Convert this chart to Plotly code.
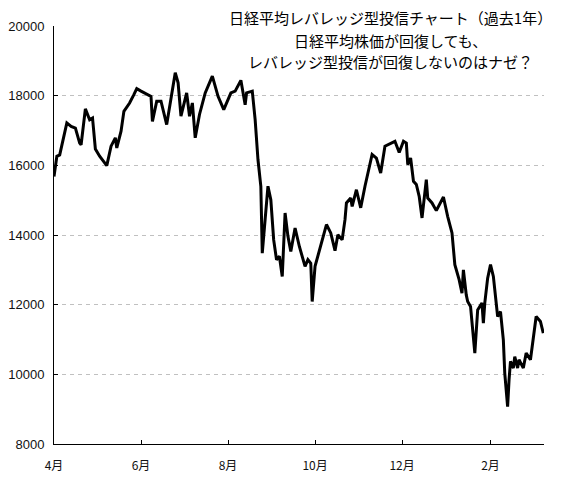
import plotly.graph_objects as go

dates = [
    "2015-04-01", "2015-04-03", "2015-04-05", "2015-04-10", "2015-04-13", "2015-04-16",
    "2015-04-19", "2015-04-20", "2015-04-23", "2015-04-26", "2015-04-28", "2015-04-30",
    "2015-05-03", "2015-05-08", "2015-05-11", "2015-05-14", "2015-05-15", "2015-05-18",
    "2015-05-20", "2015-05-24", "2015-05-27", "2015-05-29", "2015-06-01", "2015-06-05",
    "2015-06-08", "2015-06-09", "2015-06-12", "2015-06-15", "2015-06-19", "2015-06-25",
    "2015-06-27", "2015-06-29", "2015-07-03", "2015-07-05", "2015-07-07", "2015-07-09",
    "2015-07-12", "2015-07-16", "2015-07-21", "2015-07-25", "2015-07-29", "2015-08-03",
    "2015-08-06", "2015-08-10", "2015-08-13", "2015-08-14", "2015-08-18", "2015-08-20",
    "2015-08-22", "2015-08-24", "2015-08-25", "2015-08-27", "2015-08-29", "2015-08-31",
    "2015-09-02", "2015-09-04", "2015-09-06", "2015-09-08", "2015-09-10", "2015-09-12",
    "2015-09-14", "2015-09-17", "2015-09-20", "2015-09-24", "2015-09-26", "2015-09-28",
    "2015-09-29", "2015-10-01", "2015-10-05", "2015-10-08", "2015-10-09", "2015-10-12",
    "2015-10-15", "2015-10-17", "2015-10-20", "2015-10-22", "2015-10-23", "2015-10-26",
    "2015-10-27", "2015-10-30", "2015-11-02", "2015-11-05", "2015-11-10", "2015-11-13",
    "2015-11-16", "2015-11-19", "2015-11-23", "2015-11-26", "2015-11-29", "2015-12-02",
    "2015-12-04", "2015-12-05", "2015-12-07", "2015-12-09", "2015-12-11", "2015-12-13",
    "2015-12-15", "2015-12-18", "2015-12-19", "2015-12-22", "2015-12-25", "2015-12-30",
    "2016-01-02", "2016-01-05", "2016-01-07", "2016-01-10", "2016-01-12", "2016-01-13",
    "2016-01-15", "2016-01-16", "2016-01-18", "2016-01-21", "2016-01-23", "2016-01-26",
    "2016-01-27", "2016-01-28", "2016-01-30", "2016-02-01", "2016-02-03", "2016-02-05",
    "2016-02-06", "2016-02-08", "2016-02-10", "2016-02-11", "2016-02-13", "2016-02-14",
    "2016-02-15", "2016-02-17", "2016-02-18", "2016-02-20", "2016-02-21", "2016-02-24",
    "2016-02-26", "2016-02-29", "2016-03-02", "2016-03-04", "2016-03-07", "2016-03-09",
]

nav = [
    15680, 16260, 16300, 17220, 17120, 17070,
    16640, 16590, 17620, 17310, 17360, 16470,
    16260, 15990, 16550, 16790, 16500, 16980,
    17550, 17790, 18030, 18200, 18130, 18030,
    17980, 17260, 17840, 17840, 17170, 18660,
    18370, 17410, 18080, 17410, 17790, 16790,
    17460, 18080, 18560, 17980, 17600, 18080,
    18130, 18440, 17740, 18080, 18130, 17310,
    16160, 15400, 13480, 14440, 15400, 15010,
    13860, 13290, 13390, 12810, 14630, 13960,
    13530, 14200, 13670, 13100, 13290, 13190,
    12090, 13100, 13670, 14150, 14300, 14060,
    13550, 14010, 13860, 14440, 14920, 15060,
    14820, 15300, 14780, 15400, 16310, 16210,
    15780, 16550, 16620, 16690, 16370, 16690,
    16640, 16020, 16210, 15540, 15450, 15110,
    14490, 15590, 15060, 14920, 14700, 15090,
    14530, 14060, 13150, 12720, 12330, 13000,
    12280, 12090, 11950, 10610, 11850, 12050,
    11470, 12050, 12760, 13150, 12810, 11900,
    11660, 11800, 10990, 10030, 9070, 9840,
    10370, 10180, 10510, 10180, 10420, 10180,
    10610, 10420, 10990, 11660, 11520, 11180,
]

tick_dates = ["2015-04-01", "2015-06-01", "2015-08-01", "2015-10-01", "2015-12-01", "2016-02-01"]
tick_labels = ["4月", "6月", "8月", "10月", "12月", "2月"]
y_ticks = [8000, 10000, 12000, 14000, 16000, 18000, 20000]
y_tick_labels = ["8000", "10000", "12000", "14000", "16000", "18000", "20000"]

title_lines = [
    "日経平均レバレッジ型投信チャート（過去1年）",
    "日経平均株価が回復しても、",
    "レバレッジ型投信が回復しないのはナゼ？",
]

fig = go.Figure()
fig.add_trace(go.Scatter(
    x=dates, y=nav, mode="lines",
    line=dict(color="black", width=3),
    showlegend=False, hoverinfo="skip",
))

# page body has an 8px margin, so the figure is sized to fit inside the window
fig.update_layout(
    width=559, height=473,
    margin=dict(l=46, r=23, t=18, b=37),
    paper_bgcolor="white", plot_bgcolor="white",
    font=dict(family="Liberation Sans, Noto Sans CJK JP, sans-serif", size=13, color="#111111"),
    xaxis=dict(
        type="date",
        range=["2015-04-01", "2016-03-09 12:00"],
        tickvals=tick_dates, ticktext=tick_labels,
        ticks="inside", ticklen=4, tickcolor="black",
        showline=True, linecolor="black", linewidth=1,
        showgrid=False, zeroline=False,
        ticklabelstandoff=11,
        automargin=False,
        tickfont=dict(family="Noto Sans CJK JP, sans-serif", size=12, color="#111111"),
    ),
    yaxis=dict(
        range=[8000, 20000],
        tickvals=y_ticks, ticktext=y_tick_labels,
        ticks="inside", ticklen=4, tickcolor="black",
        showline=True, linecolor="black", linewidth=1,
        showgrid=True, gridcolor="#c0c0c0", gridwidth=1, griddash="4px,4px",
        zeroline=False,
        ticklabelstandoff=6,
        automargin=False,
        tickfont=dict(family="Liberation Sans, sans-serif", size=13, color="#111111"),
    ),
)

title_y = [1.0192, 0.9665, 0.914]
for txt, yy in zip(title_lines, title_y):
    fig.add_annotation(
        text=txt, xref="paper", yref="paper", x=0.686, y=yy,
        xanchor="center", yanchor="middle", showarrow=False, borderpad=0,
        font=dict(family="Noto Sans CJK JP, sans-serif", size=15, color="black"),
    )

fig.write_html("out.html")
